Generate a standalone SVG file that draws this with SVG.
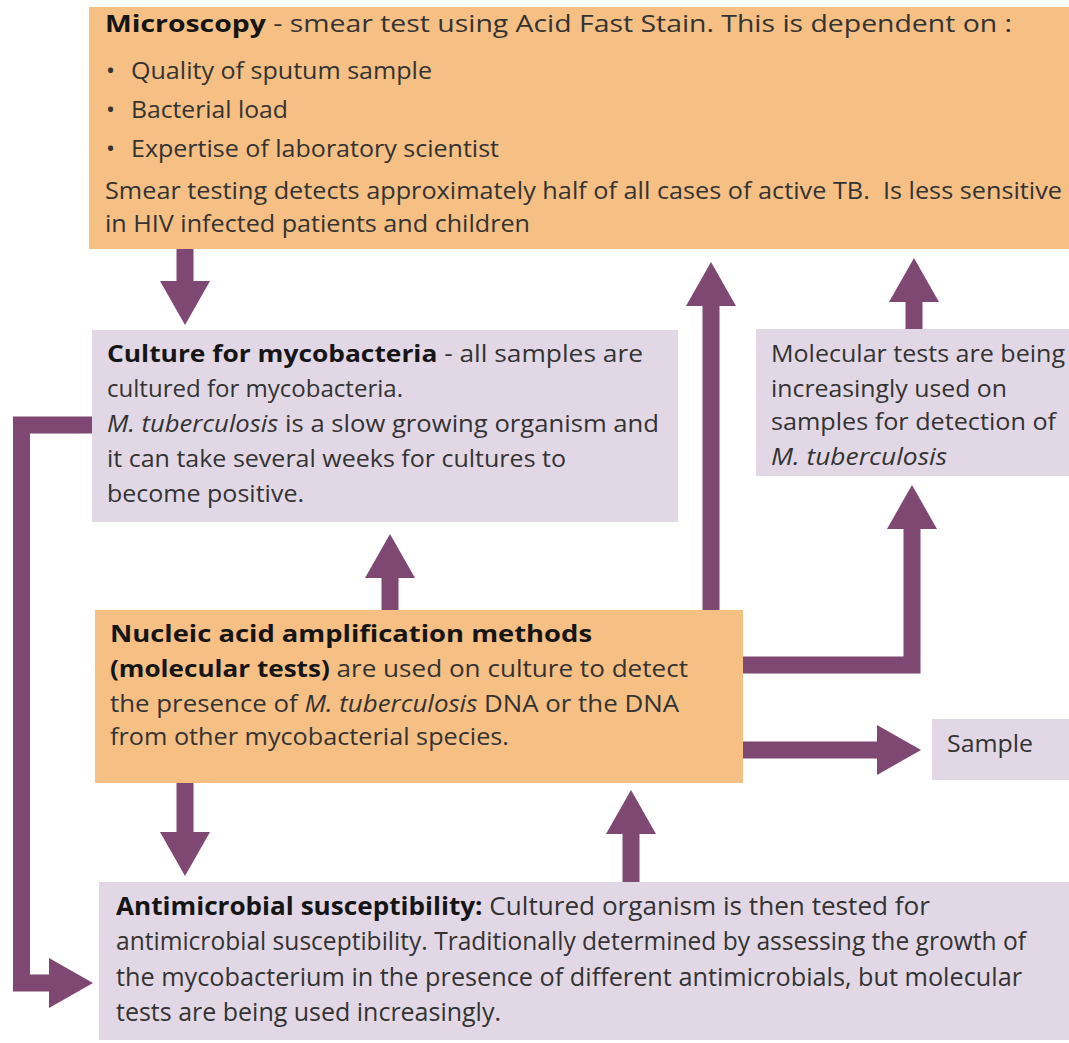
<svg xmlns="http://www.w3.org/2000/svg" width="1069" height="1043" viewBox="0 0 1069 1043">
<style>
.orange{fill:#F6BF84}
.lav{fill:#E2D8E5}
text{font-family:"Open Sans","Noto Sans","Liberation Sans",sans-serif;font-size:24px;fill:#333333}
.b{font-weight:bold;fill:#151515}
.i{font-style:italic}
.cond{font-size:25px}
.conn{fill:none;stroke:#7E4873;stroke-width:17;stroke-linejoin:miter;stroke-linecap:butt}
</style>
<defs>
<marker id="head" viewBox="0 0 44 50" refX="1" refY="25" markerWidth="44" markerHeight="50" markerUnits="userSpaceOnUse" orient="auto">
<path d="M0,0 L44,25 L0,50 z" fill="#7E4873"/>
</marker>
</defs>
<rect width="1069" height="1043" fill="#ffffff"/>

<g id="microscopy">
<rect class="orange" x="89" y="7" width="980" height="242"/>
<text x="105" y="32" textLength="907" lengthAdjust="spacingAndGlyphs"><tspan class="b">Microscopy</tspan> - smear test using Acid Fast Stain. This is dependent on :</text>
<text x="106" y="79">•</text>
<text x="131" y="79" textLength="301" lengthAdjust="spacingAndGlyphs">Quality of sputum sample</text>
<text x="106" y="118">•</text>
<text x="131" y="118" textLength="157" lengthAdjust="spacingAndGlyphs">Bacterial load</text>
<text x="106" y="157">•</text>
<text x="131" y="157" textLength="368" lengthAdjust="spacingAndGlyphs">Expertise of laboratory scientist</text>
<text x="105" y="199" textLength="957" lengthAdjust="spacingAndGlyphs" style="white-space:pre">Smear testing detects approximately half of all cases of active TB.  Is less sensitive</text>
<text x="105" y="232" textLength="425" lengthAdjust="spacingAndGlyphs">in HIV infected patients and children</text>
</g>

<g id="culture">
<rect class="lav" x="92" y="330" width="586" height="192"/>
<text x="107" y="362" textLength="536" lengthAdjust="spacingAndGlyphs"><tspan class="b">Culture for mycobacteria</tspan> - all samples are</text>
<text x="107" y="397" textLength="296" lengthAdjust="spacingAndGlyphs">cultured for mycobacteria.</text>
<text x="107" y="432" textLength="552" lengthAdjust="spacingAndGlyphs"><tspan class="i">M. tuberculosis</tspan> is a slow growing organism and</text>
<text x="107" y="467" textLength="459" lengthAdjust="spacingAndGlyphs">it can take several weeks for cultures to</text>
<text x="107" y="502" textLength="197" lengthAdjust="spacingAndGlyphs">become positive.</text>
</g>

<g id="molecular">
<rect class="lav" x="756" y="329" width="313" height="147"/>
<text x="771" y="362" textLength="294" lengthAdjust="spacingAndGlyphs">Molecular tests are being</text>
<text x="771" y="397" textLength="236" lengthAdjust="spacingAndGlyphs">increasingly used on</text>
<text x="771" y="430" textLength="285" lengthAdjust="spacingAndGlyphs">samples for detection of</text>
<text x="771" y="465" textLength="176" lengthAdjust="spacingAndGlyphs" class="i">M. tuberculosis</text>
</g>

<g id="nucleic">
<rect class="orange" x="95" y="610" width="648" height="173"/>
<text x="110" y="642" textLength="482" lengthAdjust="spacingAndGlyphs" class="b">Nucleic acid amplification methods</text>
<text x="110" y="677" textLength="578" lengthAdjust="spacingAndGlyphs"><tspan class="b">(molecular tests)</tspan> are used on culture to detect</text>
<text x="110" y="712" textLength="569" lengthAdjust="spacingAndGlyphs">the presence of <tspan class="i">M. tuberculosis</tspan> DNA or the DNA</text>
<text x="110" y="745" textLength="399" lengthAdjust="spacingAndGlyphs">from other mycobacterial species.</text>
</g>

<g id="sample">
<rect class="lav" x="932" y="719" width="137" height="61"/>
<text x="947" y="752" textLength="86" lengthAdjust="spacingAndGlyphs">Sample</text>
</g>

<g id="antimicrobial">
<rect class="lav" x="99" y="882" width="970" height="158"/>
<text class="cond" x="116" y="915" textLength="814" lengthAdjust="spacingAndGlyphs"><tspan class="b">Antimicrobial susceptibility:</tspan> Cultured organism is then tested for</text>
<text class="cond" x="116" y="950" textLength="910" lengthAdjust="spacingAndGlyphs">antimicrobial susceptibility. Traditionally determined by assessing the growth of</text>
<text class="cond" x="116" y="986" textLength="906" lengthAdjust="spacingAndGlyphs">the mycobacterium in the presence of different antimicrobials, but molecular</text>
<text class="cond" x="116" y="1021" textLength="385" lengthAdjust="spacingAndGlyphs">tests are being used increasingly.</text>
</g>

<g id="connectors">
<path class="conn" d="M185,249 V282" marker-end="url(#head)"/>
<path class="conn" d="M390,610 V577" marker-end="url(#head)"/>
<path class="conn" d="M711,610 V305" marker-end="url(#head)"/>
<path class="conn" d="M914,329 V301" marker-end="url(#head)"/>
<path class="conn" d="M743,665 H912 V528" marker-end="url(#head)"/>
<path class="conn" d="M743,750 H878" marker-end="url(#head)"/>
<path class="conn" d="M185,783 V833" marker-end="url(#head)"/>
<path class="conn" d="M631,882 V833" marker-end="url(#head)"/>
<path class="conn" d="M92,425 H21.5 V983 H50" marker-end="url(#head)"/>
</g>
</svg>
